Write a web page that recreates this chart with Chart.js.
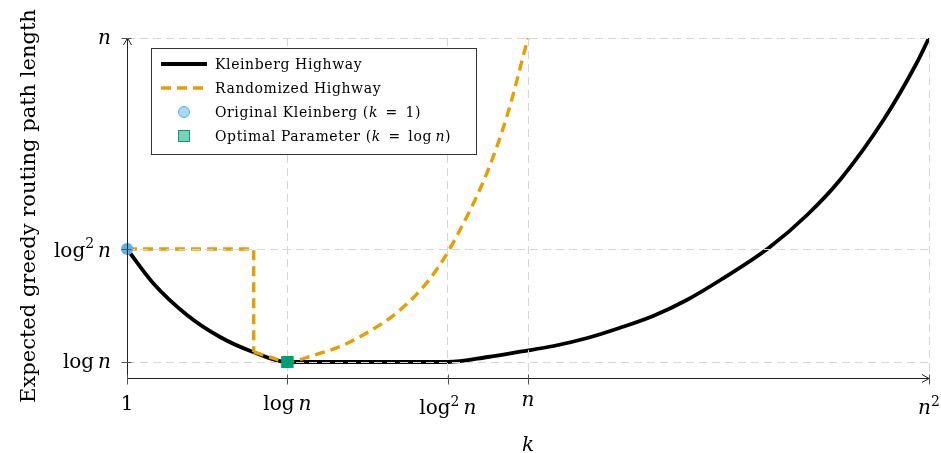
<!DOCTYPE html>
<html>
<head>
<meta charset="utf-8">
<script src="https://cdn.jsdelivr.net/npm/chart.js@4/dist/chart.umd.min.js"></script>
<style>
  html, body { margin: 0; background: #fff; }
  #wrap { width: 941px; height: 453px; position: relative; }
</style>
</head>
<body>
<div id="wrap"><canvas id="routing"></canvas></div>
<script>
// schematic axes: 1 -> 0, log n -> 1, log^2 n -> 2, n -> 2.5, n^2 -> 5
const xTickValues = [0, 1, 2, 2.5, 5];
const xTickLabels = ['$1$', '$log n$', '$log^2 n$', '$n$', '$n^2$'];
const yTickValues = [0.16, 1.29, 3.4];
const yTickLabels = ['$log n$', '$log^2 n$', '$n$'];

const kleinbergK   = [0, 0.162, 0.374, 0.58, 0.786, 1.0, 1.5, 2.0, 2.25, 2.45, 2.66, 2.87, 3.07, 3.28, 3.49, 3.70, 4.0, 4.24, 4.45, 4.72, 4.92, 5.0];
const kleinbergLen = [1.29, 0.95, 0.63, 0.41, 0.26, 0.16, 0.16, 0.16, 0.21, 0.263, 0.32, 0.40, 0.50, 0.62, 0.78, 0.98, 1.30, 1.63, 1.99, 2.59, 3.14, 3.4];

const randStepK   = [0, 0.79, 0.79];
const randStepLen = [1.29, 1.29, 0.26];
const randCurveK   = [0.79, 0.89, 1.0, 1.15, 1.35, 1.515, 1.68, 1.83, 1.95, 2.056, 2.244, 2.369, 2.5];
const randCurveLen = [0.26, 0.21, 0.16, 0.22, 0.33, 0.47, 0.65, 0.88, 1.13, 1.42, 2.05, 2.62, 3.4];

const originalK = [0],  originalLen = [1.29];
const optimalK  = [1],  optimalLen  = [0.16];

const FONT = '"DejaVu Serif", "Liberation Serif", serif';
const BLUE = '#56B4E9', TEAL = '#009E73', ORANGE = '#E69F00';

const toPoints = (xs, ys) => xs.map((x, i) => ({ x: x, y: ys[i] }));

// tiny TeX-ish text: $...$ is math, letters italic, ^2 superscript
function mathRuns(str) {
    const runs = [];
    str.split('$').forEach((part, idx) => {
        if (idx % 2 === 0) { if (part) runs.push({ t: part }); return; }
        let prev = '';
        (part.match(/log|\^\d|[a-z]|[^a-z^]+/g) || []).forEach(tok => {
            if (tok === 'log') runs.push({ t: 'log' });
            else if (tok[0] === '^') runs.push({ t: tok.slice(1), sup: true });
            else if (/^[a-z]$/.test(tok)) runs.push({ t: tok, it: true });
            else if (tok === ' ' && (prev === 'log' || prev[0] === '^')) runs.push({ t: '\u2009' });
            else runs.push({ t: tok.replace(/ /g, '\u2002') });
            prev = tok;
        });
    });
    return runs;
}
function runFont(r, size) {
    const s = r.sup ? size * 0.7 : size;
    return (r.it ? 'italic ' : '') + s + 'px ' + FONT;
}
function measureRuns(ctx, runs, size) {
    let w = 0, asc = 0, desc = 0;
    runs.forEach(r => {
        ctx.font = runFont(r, size);
        const m = ctx.measureText(r.t);
        const lift = r.sup ? size * 0.42 : 0;
        w += m.width;
        asc = Math.max(asc, m.actualBoundingBoxAscent + lift);
        desc = Math.max(desc, m.actualBoundingBoxDescent - lift);
    });
    return { w, asc, desc };
}
function drawRuns(ctx, runs, x, y, size, align) {
    const m = measureRuns(ctx, runs, size);
    let cx = align === 'center' ? x - m.w / 2 : align === 'right' ? x - m.w : x;
    ctx.textAlign = 'left';
    ctx.textBaseline = 'alphabetic';
    runs.forEach(r => {
        ctx.font = runFont(r, size);
        ctx.fillText(r.t, cx, r.sup ? y - size * 0.42 : y);
        cx += ctx.measureText(r.t).width;
    });
}

const axesAndLegend = {
    id: 'axesAndLegend',
    afterDraw(chart) {
        const ctx = chart.ctx;
        const xs = chart.scales.x, ys = chart.scales.y;
        const a = chart.chartArea;
        const L = Math.round(a.left) + 0.5, B = Math.round(a.bottom) + 0.5;

        // markers go above the grid
        chart.data.datasets.forEach((d, i) => {
            if (d.showLine === false) chart.getDatasetMeta(i).controller.draw();
        });

        ctx.save();
        ctx.strokeStyle = '#222';
        ctx.fillStyle = '#000';
        ctx.lineWidth = 1;
        ctx.setLineDash([]);
        // axis lines with arrow heads
        ctx.beginPath();
        ctx.moveTo(L, B); ctx.lineTo(L, a.top);
        ctx.moveTo(L, B); ctx.lineTo(a.right, B);
        ctx.moveTo(L - 4, a.top + 7); ctx.lineTo(L, a.top); ctx.lineTo(L + 4, a.top + 7);
        ctx.moveTo(a.right - 7, B - 4); ctx.lineTo(a.right, B); ctx.lineTo(a.right - 7, B + 4);
        ctx.stroke();

        // ticks + tick labels
        ctx.strokeStyle = '#555';
        ctx.beginPath();
        xTickValues.forEach(v => {
            const px = Math.round(xs.getPixelForValue(v)) + 0.5;
            ctx.moveTo(px, B - 4); ctx.lineTo(px, B + 6);
        });
        yTickValues.forEach(v => {
            const py = Math.round(ys.getPixelForValue(v)) + 0.5;
            ctx.moveTo(L - 6, py); ctx.lineTo(L + 4, py);
        });
        ctx.stroke();

        const tsize = 20;
        xTickValues.forEach((v, i) => {
            const runs = mathRuns(xTickLabels[i]);
            const m = measureRuns(ctx, runs, tsize);
            drawRuns(ctx, runs, xs.getPixelForValue(v), a.bottom + 17 + m.asc, tsize, 'center');
        });
        yTickValues.forEach((v, i) => {
            const runs = mathRuns(yTickLabels[i]);
            const m = measureRuns(ctx, runs, tsize);
            drawRuns(ctx, runs, a.left - 16, ys.getPixelForValue(v) + (m.asc - m.desc) / 2, tsize, 'right');
        });

        // axis titles
        drawRuns(ctx, mathRuns('$k$'), (a.left + a.right) / 2, 451, tsize, 'center');
        ctx.save();
        ctx.translate(35, 206);
        ctx.rotate(-Math.PI / 2);
        drawRuns(ctx, mathRuns('Expected greedy routing path length'), 0, 0, 21, 'center');
        ctx.restore();

        // legend inside the plot
        const box = { l: 151, t: 48, r: 476, b: 154 };
        ctx.fillStyle = '#fff';
        ctx.fillRect(box.l, box.t, box.r - box.l, box.b - box.t);
        ctx.strokeStyle = '#333';
        ctx.lineWidth = 1;
        ctx.strokeRect(box.l + 0.5, box.t + 0.5, box.r - box.l, box.b - box.t);
        let rowY = 64;
        chart.data.datasets.filter(d => d.label).forEach(d => {
            ctx.save();
            if (d.showLine === false) {
                ctx.fillStyle = d.legendFill;
                ctx.strokeStyle = d.borderColor;
                ctx.lineWidth = 1;
                ctx.beginPath();
                if (d.pointStyle === 'rect') ctx.rect(178.5, rowY - 5.5, 11, 11);
                else ctx.arc(184, rowY, 5.5, 0, Math.PI * 2);
                ctx.fill(); ctx.stroke();
            } else {
                ctx.strokeStyle = d.borderColor;
                ctx.lineWidth = d.borderWidth;
                ctx.setLineDash(d.borderDash || []);
                ctx.beginPath();
                ctx.moveTo(161, rowY); ctx.lineTo(207, rowY);
                ctx.stroke();
            }
            ctx.restore();
            ctx.fillStyle = '#000';
            ctx.letterSpacing = '0.6px';
            drawRuns(ctx, mathRuns(d.label), 215, rowY + 5, 14, 'left');
            ctx.letterSpacing = '0px';
            rowY += 24;
        });
        ctx.restore();
    }
};

const gridStyle = {
    grid: { color: '#d6d6d6', lineWidth: 1, drawTicks: false, z: 1 },
    border: { display: false, dash: [8, 5] },
    ticks: { display: false }
};

new Chart(document.getElementById('routing'), {
    type: 'line',
    data: {
        datasets: [
            {
                label: 'Kleinberg Highway',
                data: toPoints(kleinbergK, kleinbergLen),
                borderColor: '#000', borderWidth: 3.8,
                cubicInterpolationMode: 'monotone', pointRadius: 0, order: 3
            },
            {
                label: 'Randomized Highway',
                data: toPoints(randStepK, randStepLen),
                borderColor: ORANGE, borderWidth: 3.4, borderDash: [10, 6],
                tension: 0, pointRadius: 0, order: 2
            },
            {
                data: toPoints(randCurveK, randCurveLen),
                borderColor: ORANGE, borderWidth: 3.4, borderDash: [10, 6],
                cubicInterpolationMode: 'monotone', pointRadius: 0, order: 2
            },
            {
                label: 'Original Kleinberg ($k = 1$)',
                data: toPoints(originalK, originalLen),
                showLine: false, pointStyle: 'circle', pointRadius: 6,
                backgroundColor: BLUE, borderColor: BLUE, borderWidth: 0,
                legendFill: 'rgba(86,180,233,0.5)', order: 1
            },
            {
                label: 'Optimal Parameter ($k = log n$)',
                data: toPoints(optimalK, optimalLen),
                showLine: false, pointStyle: 'rect', pointRadius: 8.5,
                backgroundColor: TEAL, borderColor: TEAL, borderWidth: 0,
                legendFill: 'rgba(0,158,115,0.5)', order: 1
            }
        ]
    },
    options: {
        responsive: true,
        maintainAspectRatio: false,
        animation: false,
        events: [],
        layout: { padding: { left: 127, right: 12, top: 38, bottom: 75 }, autoPadding: false },
        plugins: { legend: { display: false }, tooltip: { enabled: false } },
        scales: {
            x: Object.assign({
                type: 'linear', min: 0, max: 5,
                afterBuildTicks: s => { s.ticks = xTickValues.map(v => ({ value: v })); }
            }, gridStyle),
            y: Object.assign({
                type: 'linear', min: 0, max: 3.4,
                afterBuildTicks: s => { s.ticks = yTickValues.map(v => ({ value: v })); }
            }, gridStyle)
        }
    },
    plugins: [axesAndLegend]
});
</script>
</body>
</html>
